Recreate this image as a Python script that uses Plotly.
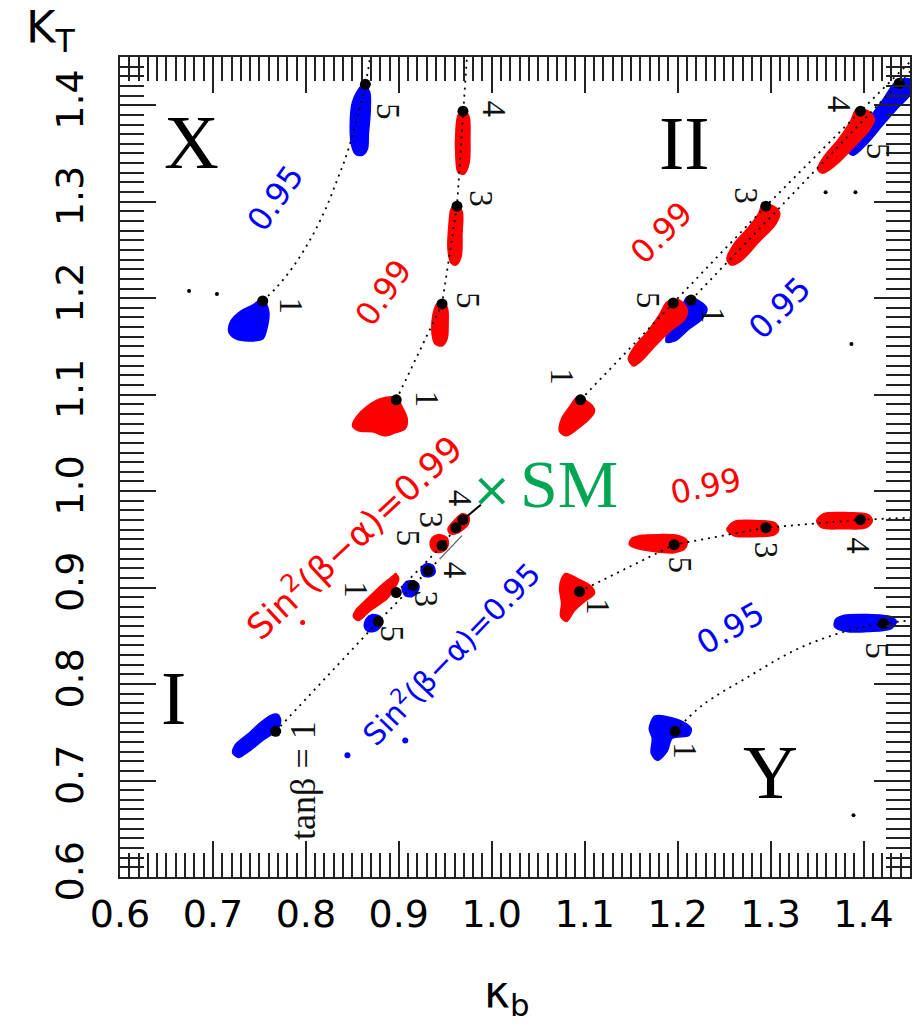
import plotly.graph_objects as go

RED = "#ff0000"
BLUE = "#0000ff"
GREEN = "#00a651"

# ---------------- benchmark points (kappa_b, kappa_tau) ----------------
x_blue_kb = [0.7536, 0.8640]
x_blue_kt = [1.1971, 1.4217]
x_blue_tanb = ["1", "5"]

col_red_kb = [0.8972, 0.9465, 0.9626, 0.9690]
col_red_kt = [1.0946, 1.1940, 1.2954, 1.3938]
col_red_tanb = ["1", "5", "3", "4"]

ii_red_kb = [1.0955, 1.1952, 1.2949, 1.3967]
ii_red_kt = [1.0946, 1.1950, 1.2954, 1.3938]
ii_red_tanb = ["1", "5", "3", "4"]

ii_blue_kb = [1.2145, 1.4385]
ii_blue_kt = [1.1981, 1.4228]
ii_blue_tanb = ["1", "5"]

y_red_kb = [1.0944, 1.1963, 1.2949, 1.3967]
y_red_kt = [0.8959, 0.9445, 0.9621, 0.9704]
y_red_tanb = ["1", "5", "3", "4"]

y_blue_kb = [1.1973, 1.4213]
y_blue_kt = [0.7510, 0.8627]
y_blue_tanb = ["1", "5"]

c_red_kb = [0.8972, 0.9465, 0.9615, 0.9690]
c_red_kt = [0.8948, 0.9435, 0.9621, 0.9704]
c_red_tanb = ["1", "5", "3", "4"]

c_blue_kb = [0.7675, 0.8779, 0.9154, 0.9315]
c_blue_kt = [0.7510, 0.8648, 0.9021, 0.9176]
c_blue_tanb = ["tanβ = 1", "5", "3", "4"]

# anchor points of the tanβ labels (same order as the points above)
x_blue_lab_kb = [0.7836, 0.8886]
x_blue_lab_kt = [1.1917, 1.3938]
col_red_lab_kb = [0.9304, 0.9744, 0.9883, 1.0022]
col_red_lab_kt = [1.0957, 1.1971, 1.3027, 1.3959]
ii_red_lab_kb = [1.0762, 1.1684, 1.2734, 1.3731]
ii_red_lab_kt = [1.1184, 1.1981, 1.3058, 1.4010]
ii_blue_lab_kb = [1.2380, 1.4149]
ii_blue_lab_kt = [1.1816, 1.3524]
y_red_lab_kb = [1.1148, 1.2027, 1.2959, 1.3945]
y_red_lab_kt = [0.8803, 0.9238, 0.9383, 0.9435]
y_blue_lab_kb = [1.2080, 1.4138]
y_blue_lab_kt = [0.7313, 0.8348]
c_red_lab_kb = [0.8543, 0.9101, 0.9347, 0.9658]
c_red_lab_kt = [0.8979, 0.9518, 0.9704, 0.9921]
c_blue_lab_kb = [0.7975, 0.8929, 0.9294, 0.9604]
c_blue_lab_kt = [0.7002, 0.8524, 0.8886, 0.9176]

# ---------------- dotted guide curves through the scans ----------------
path_x_blue_kb = [0.7536, 0.7697, 0.7868, 0.8050, 0.8211, 0.8340, 0.8447, 0.8640, 0.8693]
path_x_blue_kt = [1.1971, 1.2126, 1.2333, 1.2613, 1.2923, 1.3234, 1.3513, 1.4217, 1.4507]
path_col_red_kb = [0.8972, 0.9465, 0.9626, 0.9690, 0.9733]
path_col_red_kt = [1.0946, 1.1940, 1.2954, 1.3938, 1.4507]
path_ii_red_kb = [1.0955, 1.1952, 1.2949, 1.3967, 1.4500]
path_ii_red_kt = [1.0946, 1.1950, 1.2954, 1.3938, 1.4450]
path_ii_blue_kb = [1.2145, 1.4385, 1.4500]
path_ii_blue_kt = [1.1981, 1.4228, 1.4350]
path_y_red_kb = [1.0944, 1.1963, 1.2949, 1.3967, 1.4500]
path_y_red_kt = [0.8959, 0.9445, 0.9621, 0.9704, 0.9724]
path_y_blue_kb = [1.1973, 1.2263, 1.2766, 1.3302, 1.3838, 1.4213, 1.4500]
path_y_blue_kt = [0.7510, 0.7778, 0.8079, 0.8369, 0.8555, 0.8627, 0.8660]
path_c_red_kb = [0.8972, 0.9465, 0.9615, 0.9690]
path_c_red_kt = [0.8948, 0.9435, 0.9621, 0.9704]
path_c_blue_kb = [0.7675, 0.8779, 0.9154, 0.9315, 0.9444]
path_c_blue_kt = [0.7510, 0.8648, 0.9021, 0.9176, 0.9300]

# short solid approaches to the SM point
sm_red_kb = [0.9690, 0.9883]
sm_red_kt = [0.9704, 0.9859]
sm_blue_kb = [0.9444, 0.9680]
sm_blue_kt = [0.9300, 0.9538]

sm_kb = [1.0]
sm_kt = [1.0]

# ---------------- allowed regions (outlines in kappa_b, kappa_tau) ----------------
blob_x1_blue_kb = [0.7536, 0.7600, 0.7579, 0.7536, 0.7386, 0.7247, 0.7171, 0.7193, 0.7300, 0.7429]
blob_x1_blue_kt = [1.1992, 1.1867, 1.1681, 1.1578, 1.1557, 1.1578, 1.1650, 1.1764, 1.1867, 1.1930]
blob_x5_blue_kb = [0.8608, 0.8683, 0.8693, 0.8672, 0.8661, 0.8608, 0.8533, 0.8490, 0.8479, 0.8501, 0.8554]
blob_x5_blue_kt = [1.4207, 1.4145, 1.3959, 1.3700, 1.3545, 1.3482, 1.3493, 1.3596, 1.3855, 1.4031, 1.4145]

blob_col1_red_kb = [0.8972, 0.9036, 0.9090, 0.9069, 0.8961, 0.8854, 0.8715, 0.8565, 0.8501, 0.8543, 0.8651, 0.8801]
blob_col1_red_kt = [1.0967, 1.0874, 1.0750, 1.0646, 1.0605, 1.0574, 1.0615, 1.0625, 1.0677, 1.0770, 1.0874, 1.0957]
blob_col5_red_kb = [0.9444, 0.9519, 0.9530, 0.9519, 0.9465, 0.9390, 0.9358, 0.9369, 0.9401]
blob_col5_red_kt = [1.1971, 1.1909, 1.1733, 1.1578, 1.1505, 1.1526, 1.1629, 1.1836, 1.1930]
blob_col3_red_kb = [0.9615, 0.9680, 0.9680, 0.9669, 0.9615, 0.9562, 0.9529, 0.9540, 0.9562]
blob_col3_red_kt = [1.2975, 1.2903, 1.2665, 1.2427, 1.2344, 1.2364, 1.2509, 1.2768, 1.2923]
blob_col4_red_kb = [0.9690, 0.9754, 0.9765, 0.9754, 0.9701, 0.9637, 0.9615, 0.9615, 0.9637]
blob_col4_red_kt = [1.3959, 1.3886, 1.3648, 1.3389, 1.3286, 1.3306, 1.3441, 1.3752, 1.3896]

blob_ii1_red_kb = [1.0923, 1.1084, 1.1105, 1.1030, 1.0923, 1.0805, 1.0730, 1.0751, 1.0837]
blob_ii1_red_kt = [1.0977, 1.0884, 1.0822, 1.0729, 1.0646, 1.0574, 1.0615, 1.0749, 1.0874]
blob_ii1_blue_kb = [1.2102, 1.2231, 1.2316, 1.2263, 1.2123, 1.1973, 1.1877, 1.1887, 1.1995, 1.2059]
blob_ii1_blue_kt = [1.2012, 1.1971, 1.1888, 1.1785, 1.1681, 1.1557, 1.1547, 1.1629, 1.1805, 1.1940]
blob_ii5_red_kb = [1.1887, 1.2016, 1.2102, 1.2080, 1.1909, 1.1748, 1.1609, 1.1523, 1.1469, 1.1534, 1.1673, 1.1802]
blob_ii5_red_kt = [1.1961, 1.1981, 1.1888, 1.1785, 1.1650, 1.1495, 1.1350, 1.1298, 1.1371, 1.1495, 1.1650, 1.1826]
blob_ii3_red_kb = [1.2916, 1.3034, 1.3098, 1.3055, 1.2873, 1.2680, 1.2573, 1.2530, 1.2605, 1.2766, 1.2873]
blob_ii3_red_kt = [1.2975, 1.2954, 1.2882, 1.2768, 1.2582, 1.2385, 1.2344, 1.2406, 1.2561, 1.2737, 1.2882]
blob_ii5_blue_kb = [1.4353, 1.4503, 1.4503, 1.4374, 1.4213, 1.4031, 1.3892, 1.3838, 1.3892, 1.4052, 1.4213]
blob_ii5_blue_kt = [1.4248, 1.4269, 1.4114, 1.3979, 1.3803, 1.3596, 1.3482, 1.3513, 1.3648, 1.3855, 1.4062]
blob_ii4_red_kb = [1.3924, 1.4052, 1.4117, 1.4052, 1.3892, 1.3710, 1.3560, 1.3506, 1.3571, 1.3731, 1.3860]
blob_ii4_red_kt = [1.3959, 1.3938, 1.3855, 1.3731, 1.3565, 1.3389, 1.3296, 1.3337, 1.3462, 1.3648, 1.3834]

blob_y1_red_kb = [1.0794, 1.0923, 1.1073, 1.1105, 1.0998, 1.0891, 1.0805, 1.0741, 1.0751, 1.0730, 1.0751]
blob_y1_red_kt = [0.9145, 0.9093, 0.9010, 0.8938, 0.8855, 0.8762, 0.8648, 0.8700, 0.8834, 0.8990, 0.9093]
blob_y5_red_kb = [1.1587, 1.1802, 1.2016, 1.2102, 1.2080, 1.1963, 1.1748, 1.1566, 1.1480, 1.1502]
blob_y5_red_kt = [0.9538, 0.9549, 0.9538, 0.9486, 0.9404, 0.9362, 0.9373, 0.9404, 0.9445, 0.9507]
blob_y3_red_kb = [1.2605, 1.2873, 1.3045, 1.3088, 1.3045, 1.2820, 1.2605, 1.2530]
blob_y3_red_kt = [0.9683, 0.9693, 0.9673, 0.9611, 0.9549, 0.9528, 0.9538, 0.9600]
blob_y4_red_kb = [1.3570, 1.3838, 1.4052, 1.4095, 1.4031, 1.3784, 1.3549, 1.3496]
blob_y4_red_kt = [0.9766, 0.9776, 0.9756, 0.9693, 0.9621, 0.9611, 0.9621, 0.9693]
blob_y1_blue_kb = [1.1748, 1.1802, 1.2048, 1.2145, 1.2123, 1.1941, 1.1887, 1.1780, 1.1716, 1.1727, 1.1694]
blob_y1_blue_kt = [0.7665, 0.7675, 0.7613, 0.7540, 0.7468, 0.7437, 0.7302, 0.7209, 0.7282, 0.7437, 0.7540]
blob_y5_blue_kb = [1.3784, 1.4052, 1.4288, 1.4353, 1.4299, 1.4052, 1.3817, 1.3688, 1.3699]
blob_y5_blue_kt = [0.8710, 0.8720, 0.8700, 0.8648, 0.8576, 0.8545, 0.8545, 0.8596, 0.8669]

blob_i1_blue_kb = [0.7622, 0.7697, 0.7729, 0.7686, 0.7536, 0.7386, 0.7279, 0.7214, 0.7236, 0.7386, 0.7514]
blob_i1_blue_kt = [0.7675, 0.7685, 0.7623, 0.7520, 0.7416, 0.7302, 0.7240, 0.7282, 0.7364, 0.7489, 0.7603]
blob_c1_red_kb = [0.8966, 0.8999, 0.8966, 0.8876, 0.8693, 0.8565, 0.8511, 0.8533, 0.8661, 0.8833, 0.8940]
blob_c1_red_kt = [0.9145, 0.9093, 0.9010, 0.8886, 0.8762, 0.8658, 0.8700, 0.8762, 0.8886, 0.9041, 0.9124]
blob_c5_blue_kb = [0.8715, 0.8801, 0.8822, 0.8758, 0.8672, 0.8629, 0.8651]
blob_c5_blue_kt = [0.8720, 0.8700, 0.8627, 0.8555, 0.8545, 0.8596, 0.8679]
blob_c3_blue_kb = [0.9122, 0.9208, 0.9208, 0.9144, 0.9069, 0.9036, 0.9069]
blob_c3_blue_kt = [0.9072, 0.9041, 0.8969, 0.8907, 0.8917, 0.8990, 0.9052]
blob_c4_blue_kb = [0.9294, 0.9369, 0.9390, 0.9337, 0.9262, 0.9240]
blob_c4_blue_kt = [0.9248, 0.9228, 0.9155, 0.9114, 0.9124, 0.9197]
blob_c5_red_kb = [0.9422, 0.9519, 0.9530, 0.9476, 0.9379, 0.9337, 0.9358]
blob_c5_red_kt = [0.9549, 0.9517, 0.9435, 0.9373, 0.9373, 0.9445, 0.9517]
blob_c34_red_kb = [0.9680, 0.9754, 0.9744, 0.9637, 0.9551, 0.9529, 0.9594]
blob_c34_red_kt = [0.9766, 0.9735, 0.9652, 0.9569, 0.9559, 0.9611, 0.9693]

# isolated scan points
speck_blue_kb = [0.8447, 0.9069]
speck_blue_kt = [0.7261, 0.7416]
speck_red_kb = [0.7965]
speck_red_kt = [0.8638]
speck_black_kb = [0.6743, 0.7043, 1.3592, 1.3913, 1.3870, 1.3892]
speck_black_kt = [1.2075, 1.2044, 1.3099, 1.3099, 1.1526, 0.6640]

# contour value labels: (text, kb, kt, angle, colour)
value_labels = [
    ("0.95", 0.7675, 1.3037, -55, BLUE),
    ("0.99", 0.8833, 1.2054, -55, RED),
    ("0.99", 1.1823, 1.2675, -45, RED),
    ("0.95", 1.3099, 1.1899, -45, BLUE),
    ("0.99", 1.2305, 1.0056, -12, RED),
    ("0.95", 1.2573, 0.8576, -30, BLUE),
]

region_names = ["X", "II", "I", "Y"]
region_kb = [0.6764, 1.2070, 0.6571, 1.3002]
region_kt = [1.3617, 1.3607, 0.7851, 0.7085]

fig = go.Figure()


def region(kb, kt, color):
    fig.add_trace(go.Scatter(
        x=kb + kb[:1], y=kt + kt[:1], mode="lines", fill="toself",
        fillcolor=color, line=dict(color=color, width=1.5, shape="spline", smoothing=0.9),
        hoverinfo="skip", showlegend=False))


def guide(kb, kt, smooth=False):
    fig.add_trace(go.Scatter(
        x=kb, y=kt, mode="lines",
        line=dict(color="black", width=1.8, dash="2px,5px",
                  shape="spline" if smooth else "linear"),
        hoverinfo="skip", showlegend=False))


# blue regions underneath, red on top
for kb, kt in [(blob_x1_blue_kb, blob_x1_blue_kt), (blob_x5_blue_kb, blob_x5_blue_kt),
               (blob_ii1_blue_kb, blob_ii1_blue_kt), (blob_ii5_blue_kb, blob_ii5_blue_kt),
               (blob_y1_blue_kb, blob_y1_blue_kt), (blob_y5_blue_kb, blob_y5_blue_kt),
               (blob_i1_blue_kb, blob_i1_blue_kt), (blob_c5_blue_kb, blob_c5_blue_kt),
               (blob_c3_blue_kb, blob_c3_blue_kt), (blob_c4_blue_kb, blob_c4_blue_kt)]:
    region(kb, kt, BLUE)
for kb, kt in [(blob_col1_red_kb, blob_col1_red_kt), (blob_col5_red_kb, blob_col5_red_kt),
               (blob_col3_red_kb, blob_col3_red_kt), (blob_col4_red_kb, blob_col4_red_kt),
               (blob_ii1_red_kb, blob_ii1_red_kt), (blob_ii5_red_kb, blob_ii5_red_kt),
               (blob_ii3_red_kb, blob_ii3_red_kt), (blob_ii4_red_kb, blob_ii4_red_kt),
               (blob_y1_red_kb, blob_y1_red_kt), (blob_y5_red_kb, blob_y5_red_kt),
               (blob_y3_red_kb, blob_y3_red_kt), (blob_y4_red_kb, blob_y4_red_kt),
               (blob_c1_red_kb, blob_c1_red_kt), (blob_c5_red_kb, blob_c5_red_kt),
               (blob_c34_red_kb, blob_c34_red_kt)]:
    region(kb, kt, RED)

fig.add_trace(go.Scatter(x=speck_blue_kb, y=speck_blue_kt, mode="markers",
                         marker=dict(color=BLUE, size=6), hoverinfo="skip", showlegend=False))
fig.add_trace(go.Scatter(x=speck_red_kb, y=speck_red_kt, mode="markers",
                         marker=dict(color=RED, size=5), hoverinfo="skip", showlegend=False))
fig.add_trace(go.Scatter(x=speck_black_kb, y=speck_black_kt, mode="markers",
                         marker=dict(color="black", size=4), hoverinfo="skip", showlegend=False))

guide(path_x_blue_kb, path_x_blue_kt, smooth=True)
guide(path_col_red_kb, path_col_red_kt)
guide(path_ii_red_kb, path_ii_red_kt)
guide(path_ii_blue_kb, path_ii_blue_kt)
guide(path_y_red_kb, path_y_red_kt)
guide(path_y_blue_kb, path_y_blue_kt, smooth=True)
guide(path_c_red_kb, path_c_red_kt)
guide(path_c_blue_kb, path_c_blue_kt)

fig.add_trace(go.Scatter(x=sm_red_kb, y=sm_red_kt, mode="lines",
                         line=dict(color="black", width=2), hoverinfo="skip", showlegend=False))
fig.add_trace(go.Scatter(x=sm_blue_kb, y=sm_blue_kt, mode="lines",
                         line=dict(color="#555555", width=1.2), hoverinfo="skip", showlegend=False))

groups = [
    (x_blue_kb, x_blue_kt, x_blue_tanb, x_blue_lab_kb, x_blue_lab_kt),
    (col_red_kb, col_red_kt, col_red_tanb, col_red_lab_kb, col_red_lab_kt),
    (ii_red_kb, ii_red_kt, ii_red_tanb, ii_red_lab_kb, ii_red_lab_kt),
    (ii_blue_kb, ii_blue_kt, ii_blue_tanb, ii_blue_lab_kb, ii_blue_lab_kt),
    (y_red_kb, y_red_kt, y_red_tanb, y_red_lab_kb, y_red_lab_kt),
    (y_blue_kb, y_blue_kt, y_blue_tanb, y_blue_lab_kb, y_blue_lab_kt),
    (c_red_kb, c_red_kt, c_red_tanb, c_red_lab_kb, c_red_lab_kt),
    (c_blue_kb, c_blue_kt, c_blue_tanb, c_blue_lab_kb, c_blue_lab_kt),
]

annotations = []
for kb, kt, tanb, lkb, lkt in groups:
    fig.add_trace(go.Scatter(x=kb, y=kt, mode="markers",
                             marker=dict(symbol="circle", size=11, color="black"),
                             hoverinfo="skip", showlegend=False))
    for t, ax_, ay_ in zip(tanb, lkb, lkt):
        long_label = len(t) > 1
        annotations.append(dict(
            x=ax_, y=ay_, xref="x", yref="y", text=t, showarrow=False,
            textangle=-90 if long_label else 90,
            font=dict(family="Liberation Serif", size=36 if long_label else 33, color="#111111"),
            xanchor="center", yanchor="middle"))

# SM point
fig.add_trace(go.Scatter(x=sm_kb, y=sm_kt, mode="markers",
                         marker=dict(symbol="x-thin", size=24, line=dict(color=GREEN, width=4)),
                         hoverinfo="skip", showlegend=False))
annotations.append(dict(x=1.0835, y=1.0077, xref="x", yref="y", text="SM", showarrow=False,
                        font=dict(family="Liberation Serif", size=68, color=GREEN),
                        xanchor="center", yanchor="middle"))

for t, ax_, ay_, ang, col in value_labels:
    annotations.append(dict(x=ax_, y=ay_, xref="x", yref="y", text=t, showarrow=False,
                            textangle=ang, font=dict(family="DejaVu Sans", size=32, color=col),
                            xanchor="center", yanchor="middle"))

annotations.append(dict(x=0.8501, y=0.9538, xref="x", yref="y",
                        text="Sin<sup>2</sup>(β−α)=0.99", showarrow=False, textangle=-43,
                        font=dict(family="DejaVu Sans", size=35, color=RED),
                        xanchor="center", yanchor="middle"))
annotations.append(dict(x=0.9551, y=0.8317, xref="x", yref="y",
                        text="Sin<sup>2</sup>(β−α)=0.95", showarrow=False, textangle=-46,
                        font=dict(family="DejaVu Sans", size=30, color=BLUE),
                        xanchor="center", yanchor="middle"))

for name, ax_, ay_ in zip(region_names, region_kb, region_kt):
    annotations.append(dict(x=ax_, y=ay_, xref="x", yref="y", text=name, showarrow=False,
                            font=dict(family="Liberation Serif", size=76, color="black"),
                            xanchor="center", yanchor="middle"))

# axis titles
annotations.append(dict(x=-0.087, y=1.033, xref="paper", yref="paper",
                        text="Κ<sub>Τ</sub>", showarrow=False,
                        font=dict(family="DejaVu Sans", size=45, color="black"),
                        xanchor="center", yanchor="middle"))
annotations.append(dict(x=0.49, y=-0.143, xref="paper", yref="paper",
                        text="κ<sub>b</sub>", showarrow=False,
                        font=dict(family="DejaVu Sans", size=44, color="black"),
                        xanchor="center", yanchor="middle"))

axis_style = dict(
    range=[0.6, 1.45], showgrid=False, zeroline=False,
    showline=True, linecolor="#222222", linewidth=2, mirror="ticks",
    ticks="inside", ticklen=36, tickwidth=2, tickcolor="#222222",
    tick0=0.6, dtick=0.1, tickformat=".1f",
    tickfont=dict(family="DejaVu Sans", size=38, color="black"),
    minor=dict(ticks="inside", ticklen=24, tickwidth=2, tickcolor="#222222",
               tick0=0.6, dtick=0.01),
)

fig.update_layout(
    width=914, height=1023,
    margin=dict(l=120, r=2, t=57, b=146),
    paper_bgcolor="white", plot_bgcolor="white",
    xaxis=dict(**axis_style, ticklabelstandoff=2),
    yaxis=dict(**axis_style, tickangle=-90, ticklabelstandoff=20),
    annotations=annotations,
    showlegend=False,
)

fig.write_html("out.html")
